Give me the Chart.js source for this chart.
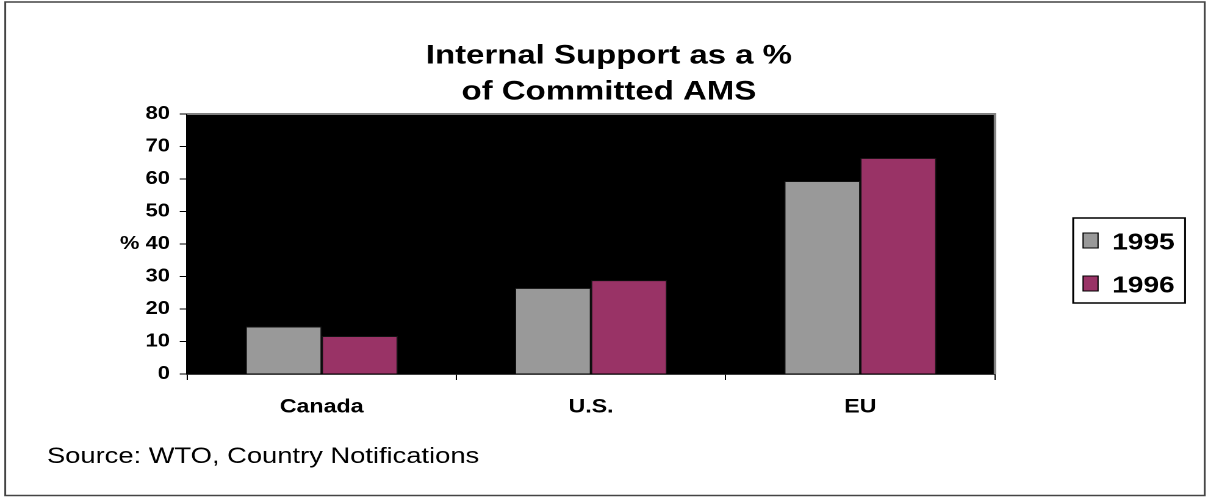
<!DOCTYPE html>
<html><head><meta charset="utf-8">
<script src="https://cdn.jsdelivr.net/npm/chart.js@4.4.0/dist/chart.umd.min.js"></script>
<style>
html,body{margin:0;padding:0;background:#fff;overflow:hidden}
#wrap{position:absolute;left:0;top:0;width:990px;height:497px;transform:scaleX(1.2202);transform-origin:0 0}
canvas{display:block}
</style></head><body>
<div id="wrap"><canvas id="c" width="990" height="497"></canvas></div>
<script>
const categories = ['Canada', 'U.S.', 'EU'];
const seriesNames = ['1995', '1996'];
const values1995 = [14.6, 26.5, 59.4];
const values1996 = [11.7, 28.9, 66.5];
const yMin = 0, yMax = 80, yStep = 10;
const yUnit = '%';
const yUnitAt = 40;
const titleLines = ['Internal Support as a %', 'of Committed AMS'];
const sourceNote = 'Source: WTO, Country Notifications';

const FONT = '"Liberation Sans", Arial, Helvetica, sans-serif';
Chart.defaults.font.family = FONT;
Chart.defaults.color = '#000';

const decor = {
  id: 'decor',
  beforeDraw(chart) {
    const {ctx, chartArea: a} = chart;
    ctx.save();
    ctx.fillStyle = '#fff';
    ctx.fillRect(0, 0, chart.width, chart.height);
    ctx.fillStyle = '#000';
    ctx.fillRect(a.left, a.top, a.right - a.left, a.bottom - a.top);
    ctx.restore();
  },
  afterDraw(chart) {
    const {ctx, chartArea: a} = chart;
    ctx.save();
    ctx.strokeStyle = '#808080';
    ctx.lineWidth = 2;
    ctx.beginPath();
    ctx.moveTo(a.left, a.top);
    ctx.lineTo(a.right, a.top);
    ctx.lineTo(a.right, a.bottom);
    ctx.stroke();
    ctx.strokeStyle = '#444';
    ctx.lineWidth = 1.5;
    ctx.strokeRect(4.3, 2, 983, 493.5);
    ctx.strokeStyle = '#000';
    ctx.lineWidth = 1.5;
    ctx.strokeRect(879.5, 218, 91.7, 85);
    const rows = [233, 276];
    ctx.font = 'bold 23px ' + FONT;
    ctx.textBaseline = 'alphabetic';
    ctx.textAlign = 'left';
    chart.data.datasets.forEach((ds, i) => {
      const y = rows[i];
      ctx.fillStyle = ds.backgroundColor;
      ctx.fillRect(887.6, y, 12.3, 15);
      ctx.lineWidth = 1;
      ctx.strokeStyle = '#000';
      ctx.strokeRect(887.6, y, 12.3, 15);
      ctx.fillStyle = '#000';
      ctx.fillText(ds.label, 911.5, y + 16.5);
    });
    ctx.font = '22.4px ' + FONT;
    ctx.fillStyle = '#000';
    ctx.fillText(sourceNote, 38.5, 463);
    ctx.restore();
  }
};

new Chart(document.getElementById('c'), {
  type: 'bar',
  data: {
    labels: categories,
    datasets: [
      {label: seriesNames[0], data: values1995, backgroundColor: '#999999', borderColor: '#111', borderWidth: 1},
      {label: seriesNames[1], data: values1996, backgroundColor: '#993366', borderColor: '#111', borderWidth: 1}
    ]
  },
  options: {
    responsive: false,
    animation: false,
    devicePixelRatio: 2,
    layout: {padding: {left: 8, right: 0, top: 0, bottom: 73}},
    datasets: {bar: {categoryPercentage: 0.565, barPercentage: 1}},
    plugins: {
      legend: {display: false},
      tooltip: {enabled: false},
      title: {
        display: true,
        text: titleLines,
        color: '#000',
        font: {size: 27, weight: 'bold', lineHeight: 1.3334},
        padding: {top: 38, bottom: 4}
      }
    },
    scales: {
      x: {
        afterFit(s) { s.height = 50; },
        border: {display: true, color: '#000', width: 1.2},
        grid: {offset: true, drawOnChartArea: false, drawTicks: true, tickLength: 6, color: '#000', lineWidth: 1},
        ticks: {font: {size: 19, weight: 'bold'}, color: '#000', padding: 16}
      },
      y: {
        min: yMin, max: yMax,
        afterFit(s) { s.width = 145.3; },
        border: {display: true, color: '#000', width: 1.2},
        grid: {drawOnChartArea: false, drawTicks: true, tickLength: 6, color: '#000', lineWidth: 1},
        ticks: {
          stepSize: yStep,
          font: {size: 18, weight: 'bold'},
          color: '#000',
          padding: 8,
          callback: (v) => (v === yUnitAt ? yUnit + ' ' + v : String(v))
        }
      },
      yRightSpace: {
        position: 'right',
        display: true,
        afterFit(s) { s.width = 174.6; },
        border: {display: false},
        grid: {display: false},
        ticks: {display: false}
      }
    }
  },
  plugins: [decor]
});
</script>
</body></html>
